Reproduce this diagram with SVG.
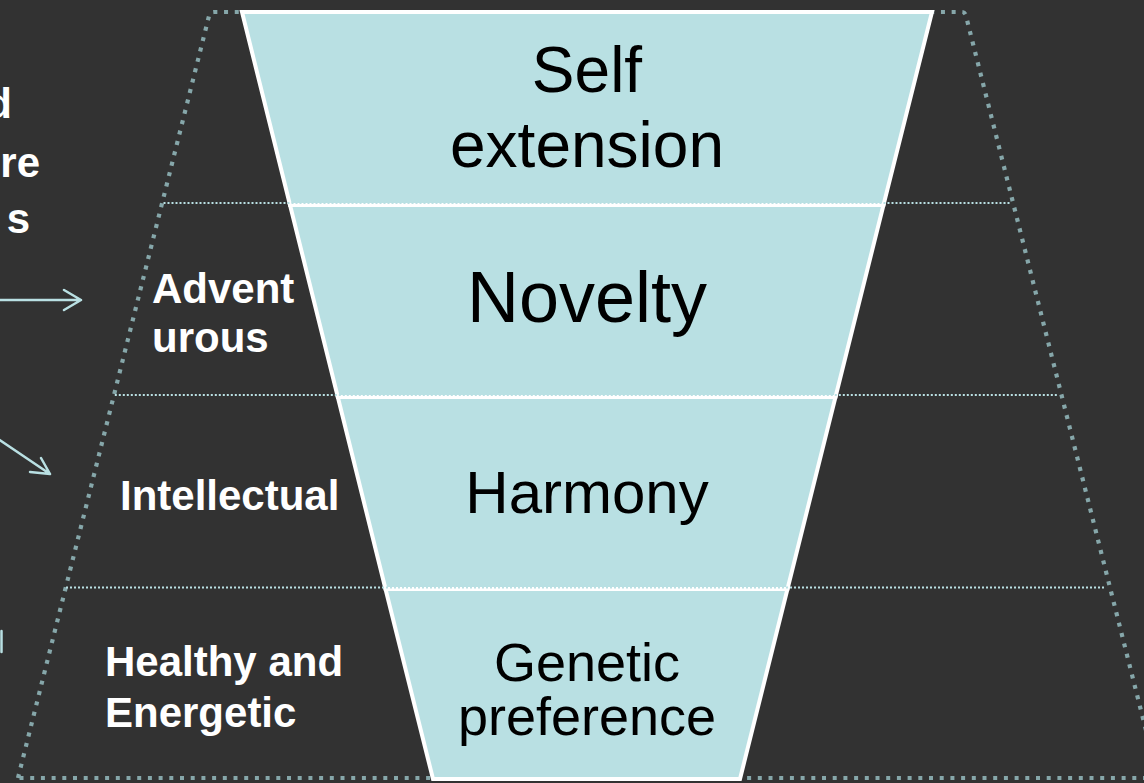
<svg xmlns="http://www.w3.org/2000/svg" width="1144" height="783" viewBox="0 0 1144 783">
<defs>
<style>
.bg{fill:#323232}
.outline{fill:none;stroke:#86a7aa;stroke-width:4.2;stroke-dasharray:4 6.7;stroke-linejoin:round}
.band{fill:none;stroke:#b9e0e3;stroke-width:2;stroke-dasharray:2 2}
.seg{fill:#b9e0e3;stroke:#ffffff;stroke-width:4;stroke-linejoin:miter}
.ctext{font-family:"Liberation Sans",Arial,sans-serif;fill:#000000;text-anchor:middle}
.ltext{font-family:"Liberation Sans",Arial,sans-serif;fill:#ffffff;font-weight:bold;font-size:42px}
.conn{fill:none;stroke:#b9e0e3;stroke-width:2.5;stroke-linecap:round;stroke-linejoin:round}
</style>
</defs>
<rect class="bg" x="0" y="0" width="1144" height="783"/>
<g id="frame">
<path class="outline" d="M18,778 L209,16 Q210,12 214,12 L962,12 Q965,12 966,16 L1158,778 Z"/>
</g>
<g id="funnel-self">
<polygon class="seg" points="242,12 932,12 883.5,205 290,205"/>
<text class="ctext" font-size="64" x="587" y="92">Self</text>
<text class="ctext" font-size="64" x="587" y="167">extension</text>
</g>
<g id="funnel-novelty">
<polygon class="seg" points="290,205 883.5,205 835.5,397 337.8,397"/>
<text class="ctext" font-size="72" x="587" y="322">Novelty</text>
</g>
<g id="funnel-harmony">
<polygon class="seg" points="337.8,397 835.5,397 787.5,589 385.5,589"/>
<text class="ctext" font-size="60" x="587" y="513">Harmony</text>
</g>
<g id="funnel-genetic">
<polygon class="seg" points="385.5,589 787.5,589 740,779 433,779"/>
<text class="ctext" font-size="54" x="587" y="681">Genetic</text>
<text class="ctext" font-size="54" x="587" y="735">preference</text>
</g>
<g id="bands">
<line class="band" x1="163.5" y1="203" x2="1011" y2="203"/>
<line class="band" x1="114.8" y1="395" x2="1058" y2="395"/>
<line class="band" x1="66" y1="587.5" x2="1105" y2="587.5"/>
</g>
<g id="label-adventurous">
<text class="ltext" x="152" y="303">Advent</text>
<text class="ltext" x="152" y="352">urous</text>
</g>
<g id="label-intellectual">
<text class="ltext" x="120" y="510">Intellectual</text>
</g>
<g id="label-healthy">
<text class="ltext" x="105" y="676">Healthy and</text>
<text class="ltext" x="105" y="727">Energetic</text>
</g>
<g id="label-cut">
<text class="ltext" x="12" y="118" text-anchor="end">d</text>
<text class="ltext" x="40" y="177" text-anchor="end">re</text>
<text class="ltext" x="30" y="233" text-anchor="end">s</text>
</g>
<g id="connectors">
<path class="conn" d="M-5,300 L81,300 M64,290 L81,300 L64,310"/>
<path class="conn" d="M-30,420 L50,474 M30,472 L50,474 L41,458"/>
<path class="conn" d="M1.5,631 L1.5,652"/>
</g>
</svg>
